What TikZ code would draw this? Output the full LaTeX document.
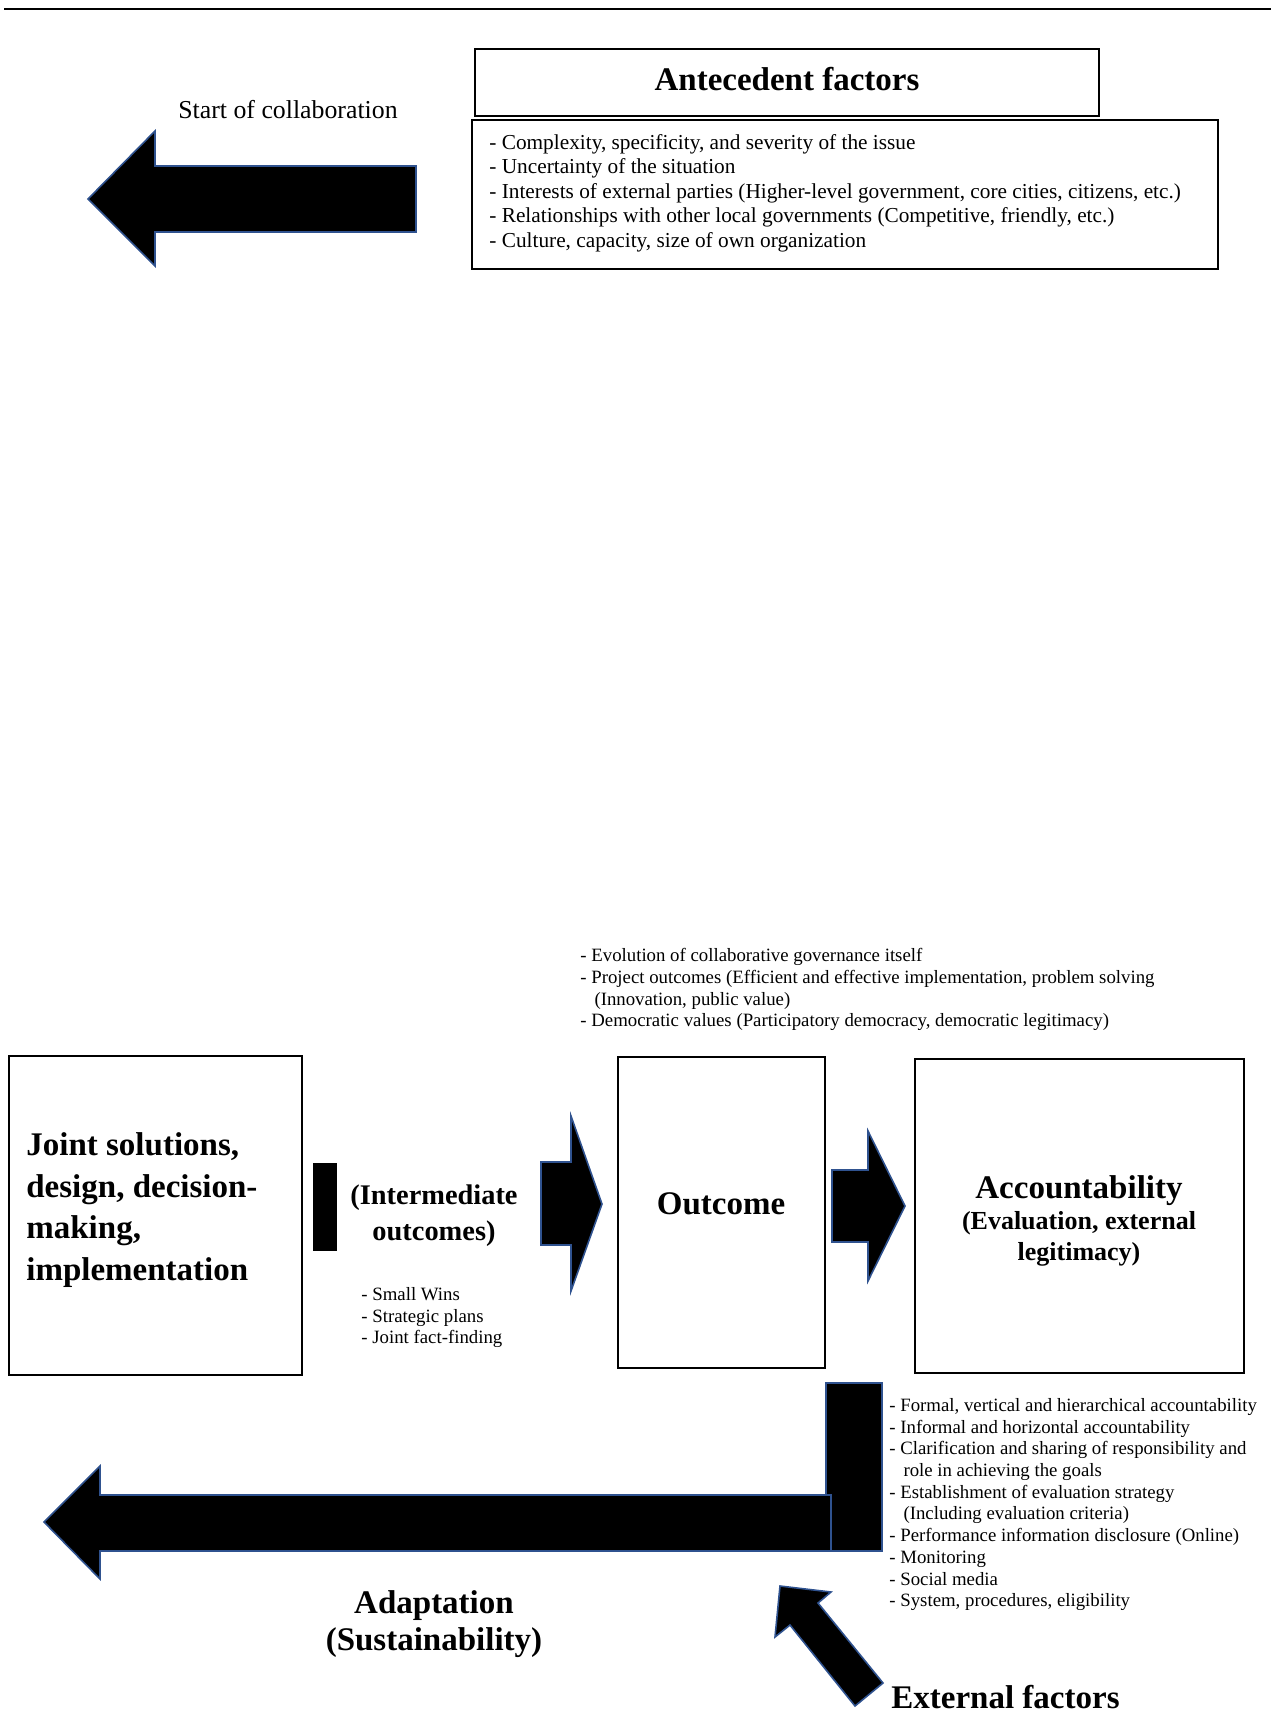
\documentclass[tikz,border=0pt]{standalone}
\usepackage{fontspec}
\setmainfont{Liberation Serif}
\definecolor{arrowblue}{RGB}{47,82,143}

\tikzset{
  box/.style={draw, line width=0.9pt, inner sep=0pt},
  bigtext/.style={font=\fontsize{16.5}{20.7}\selectfont\bfseries, inner sep=0pt},
  listtext/.style={font=\fontsize{9.4}{10.85}\selectfont, align=left, inner sep=0pt, anchor=north west},
  blockarrow/.style={fill=black, draw=arrowblue, line width=0.8pt, line join=miter}
}

\begin{document}
\begin{tikzpicture}[x=0.5pt,y=-0.5pt]
        \useasboundingbox (0,0) rectangle (1271,1721);

        % Top rule
        \draw[line width=1.3pt] (4,9) -- (1271,9);

        % Antecedent factors
        \node[box, minimum width=312pt, minimum height=33.5pt] (anttitle) at (787,82.5) {};
        \node[bigtext] (anttext) at (787,79) {Antecedent factors};
        \node[box, minimum width=373pt, minimum height=74.5pt] (antlist) at (845,194.5) {};
        \node[font=\fontsize{10.65}{12.25}\selectfont, align=left, inner sep=0pt, anchor=west] (anttextlist) at (489,193)
            {- Complexity, specificity, and severity of the issue\\
             - Uncertainty of the situation\\
             - Interests of external parties (Higher-level government, core cities, citizens, etc.)\\
             - Relationships with other local governments (Competitive, friendly, etc.)\\
             - Culture, capacity, size of own organization};

        % Start of collaboration
        \filldraw[blockarrow] (416,166) -- (155,166) -- (155,131) -- (88,199) -- (155,266) -- (155,232) -- (416,232) -- cycle;
        \node[font=\fontsize{12.9}{15}\selectfont, inner sep=0pt] (start) at (288,110) {Start of collaboration};

        % Outcome items
        \node[listtext] (outlist) at (580,948)
            {- Evolution of collaborative governance itself\\
             - Project outcomes (Efficient and effective implementation, problem solving\\
             \hspace*{0.75em}(Innovation, public value)\\
             - Democratic values (Participatory democracy, democratic legitimacy)};

        % Joint solutions
        \node[box, minimum width=146.5pt, minimum height=159.5pt] (joint) at (155.5,1215.5) {};
        \node[bigtext, align=left, anchor=west] (jointtext) at (26,1210)
            {Joint solutions,\\design, decision-\\making,\\implementation};

        % Intermediate outcomes
        \fill (313,1163) rectangle (337,1251);
        \node[font=\fontsize{14.2}{18}\selectfont\bfseries, align=center, inner sep=0pt] (interm) at (434,1216)
            {(Intermediate\\outcomes)};
        \node[listtext] (wins) at (361,1287) {- Small Wins\\- Strategic plans\\- Joint fact-finding};
        \filldraw[blockarrow] (541,1162) -- (571,1162) -- (571,1116) -- (602,1204) -- (571,1291) -- (571,1245) -- (541,1245) -- cycle;

        % Outcome
        \node[box, minimum width=103.5pt, minimum height=155.5pt] (outcome) at (721.5,1212.5) {};
        \node[bigtext] (outcometext) at (721,1204) {Outcome};
        \filldraw[blockarrow] (832,1170) -- (868,1170) -- (868,1131) -- (905,1206) -- (868,1281) -- (868,1242) -- (832,1242) -- cycle;

        % Accountability
        \node[box, minimum width=164.5pt, minimum height=157pt] (acc) at (1079.5,1216) {};
        \node[bigtext] (acctitle) at (1079,1191) {Accountability};
        \node[font=\fontsize{13}{15.5}\selectfont\bfseries, align=center, inner sep=0pt] (accsub) at (1079,1239)
            {(Evaluation, external\\legitimacy)};
        \node[listtext] (acclist) at (889,1398)
            {- Formal, vertical and hierarchical accountability\\
             - Informal and horizontal accountability\\
             - Clarification and sharing of responsibility and\\
             \hspace*{0.75em}role in achieving the goals\\
             - Establishment of evaluation strategy\\
             \hspace*{0.75em}(Including evaluation criteria)\\
             - Performance information disclosure (Online)\\
             - Monitoring\\
             - Social media\\
             - System, procedures, eligibility};

        % Adaptation
        \filldraw[blockarrow] (826,1383) rectangle (882,1551);
        \filldraw[blockarrow] (831,1495) -- (100,1495) -- (100,1466) -- (44,1522) -- (100,1579) -- (100,1551) -- (831,1551) -- cycle;
        \node[bigtext, font=\fontsize{16.5}{18.8}\selectfont\bfseries, align=center] (adapt) at (434,1624)
            {Adaptation\\(Sustainability)};

        % External factors
        \filldraw[blockarrow] (780,1586) -- (831,1592) -- (818,1603) -- (883,1683) -- (855,1706) -- (790,1625) -- (775,1637) -- cycle;
        \node[bigtext, anchor=west] (external) at (891,1697) {External factors};
\end{tikzpicture}
\end{document}
